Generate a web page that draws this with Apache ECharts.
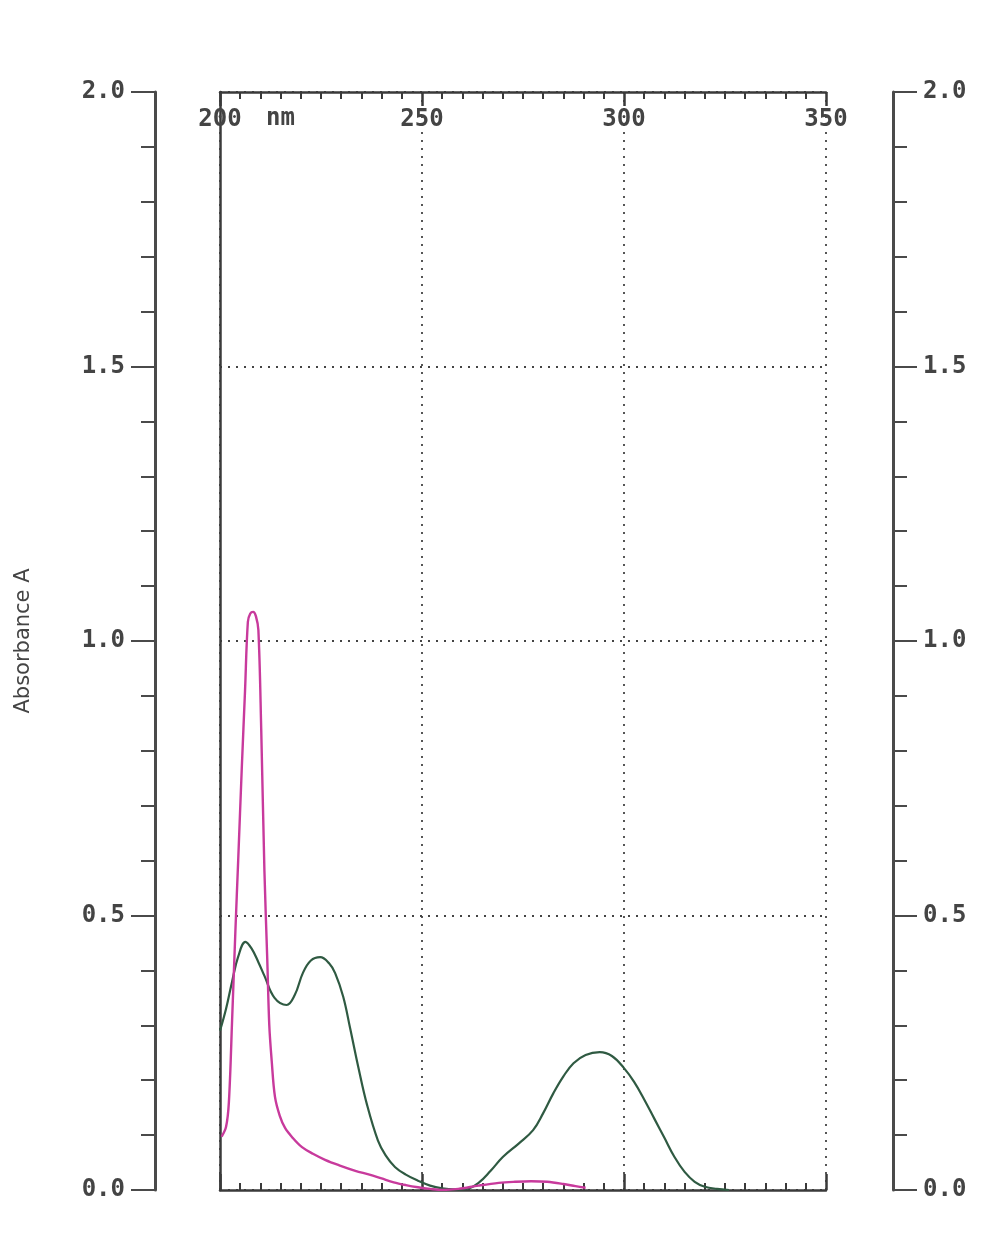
<!DOCTYPE html>
<html><head><meta charset="utf-8">
<script src="https://cdn.jsdelivr.net/npm/echarts@6/dist/echarts.min.js"></script>
<style>html,body{margin:0;padding:0;background:#fff}#c{width:1000px;height:1233px}</style>
</head><body><div id="c"></div>
<script>
// Wavelength (nm) and absorbance (A)
const nmGreen = [200, 201.5, 203, 204.5, 206.3, 207.8, 209.5, 211, 213.5, 216.5, 218.5, 220.5, 222.5, 224.8, 227, 228.5, 230.5, 232.2, 234.2, 236.4, 239.1, 241, 243.3, 246, 249, 252, 255, 258, 261, 264, 267, 270, 274, 277.5, 280, 282.5, 285, 287.5, 290.5, 294, 297, 300, 302.5, 305, 307.5, 310, 312.5, 315, 317.5, 320, 323, 326];
const absGreen = [0.29, 0.33, 0.38, 0.425, 0.452, 0.44, 0.415, 0.39, 0.35, 0.337, 0.355, 0.395, 0.418, 0.424, 0.413, 0.395, 0.352, 0.295, 0.225, 0.155, 0.09, 0.063, 0.042, 0.028, 0.017, 0.008, 0.003, 0.001, 0.002, 0.013, 0.035, 0.06, 0.085, 0.109, 0.14, 0.176, 0.207, 0.231, 0.246, 0.251, 0.244, 0.222, 0.197, 0.165, 0.13, 0.095, 0.06, 0.033, 0.015, 0.006, 0.002, 0];

const nmMagenta = [200.4, 201.5, 202.2, 203, 203.8, 204.5, 205.4, 206.2, 206.9, 207.5, 208.2, 208.9, 209.5, 210.2, 211, 211.7, 212.2, 212.8, 213.6, 214.8, 216.1, 218, 220.3, 223, 226, 229.5, 233.5, 237, 240, 243, 246, 249, 252, 255, 259, 264, 269, 273, 277, 281, 285, 288, 290.5];
const absMagenta = [0.097, 0.115, 0.16, 0.31, 0.47, 0.6, 0.77, 0.91, 1.035, 1.05, 1.053, 1.045, 1.02, 0.84, 0.58, 0.42, 0.30, 0.235, 0.17, 0.135, 0.113, 0.095, 0.078, 0.066, 0.055, 0.045, 0.035, 0.028, 0.021, 0.014, 0.009, 0.005, 0.002, 0.0, 0.002, 0.008, 0.013, 0.015, 0.016, 0.015, 0.011, 0.007, 0.004];

const xTickLabels = {200: '200', 250: '250', 300: '300', 350: '350'};
const xUnit = 'nm';
const yTickLabels = {0: '0.0', 0.5: '0.5', 1: '1.0', 1.5: '1.5', 2: '2.0'};
const yTitle = 'Absorbance A';

const axisColor = '#3a3a3a';
const monoFont = 'DejaVu Sans Mono';
const labelStyle = {fontFamily: monoFont, fontSize: 24, fontWeight: 'bold', color: '#444'};
const dotted = {type: [2, 6], color: '#444', width: 1.8};

const chart = echarts.init(document.getElementById('c'), null, {renderer: 'canvas'});

function yAxisLabeled(pos, offset, withName) {
  const ax = {
    type: 'value', position: pos, offset: offset, min: 0, max: 2, interval: 0.5,
    axisLine: {show: true, onZero: false, lineStyle: {color: '#4a4a4a', width: 3}},
    axisTick: {show: true, inside: false, length: 24, lineStyle: {color: '#4a4a4a', width: 2}},
    minorTick: {show: true, splitNumber: 5, length: 14, lineStyle: {color: '#4a4a4a', width: 2}},
    minorSplitLine: {show: false},
    splitLine: {show: false},
    axisLabel: Object.assign({margin: 30, formatter: v => yTickLabels[v] || ''}, labelStyle)
  };
  if (withName) {
    ax.name = yTitle;
    ax.nameLocation = 'middle';
    ax.nameGap = 121;
    ax.nameRotate = 90;
    ax.nameTextStyle = {fontFamily: 'DejaVu Sans', fontSize: 21, color: '#444'};
  }
  return ax;
}

const option = {
  backgroundColor: '#fff',
  animation: false,
  grid: {left: 220, right: 174, top: 92, bottom: 43, containLabel: false},
  xAxis: [
    {
      type: 'value', position: 'bottom', min: 200, max: 350, interval: 50,
      axisLine: {show: true, onZero: false, lineStyle: {color: axisColor, width: 2.5}},
      axisTick: {show: true, inside: true, length: 16, lineStyle: {color: axisColor, width: 2.5}},
      minorTick: {show: true, splitNumber: 10, length: 7, lineStyle: {color: axisColor, width: 2}},
      axisLabel: {show: false},
      splitLine: {show: true, lineStyle: dotted}
    },
    {
      type: 'value', position: 'top', min: 200, max: 350, interval: 50,
      axisLine: {show: true, onZero: false, lineStyle: {color: axisColor, width: 2.5}},
      axisTick: {show: true, inside: true, length: 14, lineStyle: {color: axisColor, width: 2.5}},
      minorTick: {show: true, splitNumber: 10, length: 7, lineStyle: {color: axisColor, width: 2}},
      axisLabel: Object.assign({inside: true, margin: 16, showMinLabel: true, showMaxLabel: true,
        formatter: v => xTickLabels[v] || ''}, labelStyle),
      splitLine: {show: false}
    }
  ],
  yAxis: [
    yAxisLabeled('left', 65, true),
    {
      type: 'value', position: 'left', offset: 0, min: 0, max: 2, interval: 0.5,
      axisLine: {show: true, onZero: false, lineStyle: {color: axisColor, width: 2.5}},
      axisTick: {show: false}, axisLabel: {show: false},
      splitLine: {show: true, lineStyle: dotted}
    },
    yAxisLabeled('right', 67, false)
  ],
  graphic: [
    {type: 'text', left: 266, top: 107, style: {text: xUnit, font: 'bold 24px "DejaVu Sans Mono"', fill: '#444'}}
  ],
  series: [
    {
      type: 'line', xAxisIndex: 0, yAxisIndex: 1, showSymbol: false, smooth: 0.4,
      lineStyle: {color: '#2f5a42', width: 2.2}, z: 3,
      data: nmGreen.map((x, i) => [x, absGreen[i]])
    },
    {
      type: 'line', xAxisIndex: 0, yAxisIndex: 1, showSymbol: false, smooth: 0.35,
      lineStyle: {color: '#c83a9c', width: 2.4}, z: 4,
      data: nmMagenta.map((x, i) => [x, absMagenta[i]])
    }
  ]
};
chart.setOption(option);
</script></body></html>
